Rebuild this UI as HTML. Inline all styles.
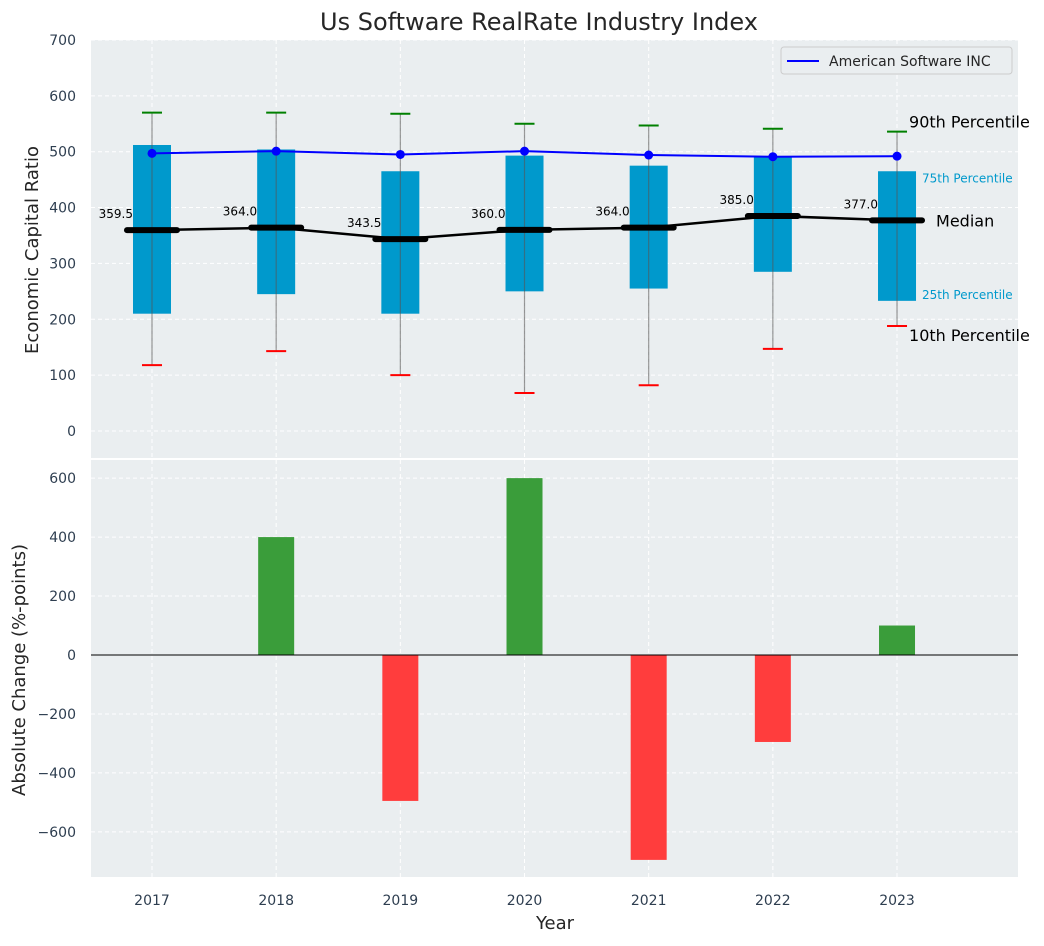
<!DOCTYPE html>
<html><head><meta charset="utf-8"><style>
body{margin:0;background:#fff;font-family:"DejaVu Sans",sans-serif}
</style></head><body>
<svg id="c" width="1044" height="942" xmlns="http://www.w3.org/2000/svg" font-family="DejaVu Sans, sans-serif"></svg>
<script>
const years=[2017,2018,2019,2020,2021,2022,2023];
const q1=[210,245,210,250,255,285,233];
const q3=[512,504,465,493,475,492,465];
const med=[359.5,364,343.5,360,364,385,377];
const p10=[118,143,100,68,82,147,188];
const p90=[570,570,568,550,547,541,536];
const company=[497,501,495,501,494,491,492];
const change=[0,400,-495,600,-695,-295,100];
const topTicks=[0,100,200,300,400,500,600,700];
const botTicks=[-600,-400,-200,0,200,400,600];

const svg=document.getElementById('c');
const NS='http://www.w3.org/2000/svg';
function el(t,a,txt){const e=document.createElementNS(NS,t);for(const k in a)e.setAttribute(k,a[k]);if(txt!==undefined)e.textContent=txt;svg.appendChild(e);return e;}
const X=y=>152+(y-2017)*124.17;
const Yt=v=>431-0.5586*v;
const Yb=v=>655-0.2948*v;
const L=91,R=1018;

let e;
e=el('text',{x:539,y:30,'text-anchor':'middle','font-size':24,fill:'#262626'},'Us Software RealRate Industry Index');


e=el('rect',{x:L,y:40,width:R-L,height:418,fill:'#eaeef0'});


e=el('rect',{x:L,y:460,width:R-L,height:417,fill:'#eaeef0'});


years.forEach(y=>{
 e=el('line',{x1:X(y),x2:X(y),y1:40,y2:458,stroke:'#fff','stroke-dasharray':'4,3'});
 
 
 e=el('line',{x1:X(y),x2:X(y),y1:460,y2:877,stroke:'#fff','stroke-dasharray':'4,3'});
 
 
 e=el('text',{x:X(y),y:905,'text-anchor':'middle','font-size':14,fill:'#2e3e50'},String(y));
 
 
});
topTicks.forEach(v=>{
 e=el('line',{x1:L,x2:R,y1:Yt(v),y2:Yt(v),stroke:'#fff','stroke-dasharray':'4,3'});
 
 
 e=el('text',{x:76,y:Yt(v)+5,'text-anchor':'end','font-size':14,fill:'#2e3e50'},String(v));
 
 
});
botTicks.forEach(v=>{
 e=el('line',{x1:L,x2:R,y1:Yb(v),y2:Yb(v),stroke:'#fff','stroke-dasharray':'4,3'});
 
 
 e=el('text',{x:76,y:Yb(v)+5,'text-anchor':'end','font-size':14,fill:'#2e3e50'},(v<0?'\u2212'+(-v):String(v)));
 
 
});
years.forEach((y,i)=>{
 const x=X(y);
 e=el('rect',{x:x-19,y:Yt(q3[i]),width:38,height:Yt(q1[i])-Yt(q3[i]),fill:'#0099cc'});
 
 
 e=el('line',{x1:x,x2:x,y1:Yt(p10[i]),y2:Yt(p90[i]),stroke:'#555','stroke-opacity':0.6,'stroke-width':1.2});
 
 
 e=el('line',{x1:x-10,x2:x+10,y1:Yt(p90[i]),y2:Yt(p90[i]),stroke:'green','stroke-width':2});
 
 
 e=el('line',{x1:x-10,x2:x+10,y1:Yt(p10[i]),y2:Yt(p10[i]),stroke:'red','stroke-width':2});
 
 
});
e=el('polyline',{points:years.map((y,i)=>X(y)+','+Yt(med[i])).join(' '),fill:'none',stroke:'#000','stroke-width':2.5});


years.forEach((y,i)=>{
 const x=X(y);
 e=el('line',{x1:x-25,x2:x+25,y1:Yt(med[i]),y2:Yt(med[i]),stroke:'#000','stroke-width':6,'stroke-linecap':'round'});
 
 
 e=el('text',{x:x-19,y:Yt(med[i])-12,'text-anchor':'end','font-size':12,fill:'#000'},med[i].toFixed(1));
 
 
});
e=el('polyline',{points:years.map((y,i)=>X(y)+','+Yt(company[i])).join(' '),fill:'none',stroke:'#0000ff','stroke-width':2});


years.forEach((y,i)=>{
 e=el('circle',{cx:X(y),cy:Yt(company[i]),r:4.5,fill:'#0000ff'});
 
 
});
const lx=X(2023);
[['90th Percentile',lx+12,Yt(p90[6])-4,16,'#000'],['75th Percentile',lx+25,Yt(q3[6])+11,12,'#0099cc'],['Median',lx+39,Yt(med[6])+6,16,'#000'],['25th Percentile',lx+25,Yt(q1[6])-2,12,'#0099cc'],['10th Percentile',lx+12,Yt(p10[6])+15,16,'#000']].forEach(a=>{
 e=el('text',{x:a[1],y:a[2],'font-size':a[3],fill:a[4]},a[0]);
 
 
});
e=el('rect',{x:781,y:47,width:231,height:27,rx:3,fill:'#eaeef0',stroke:'#ccc'});


e=el('line',{x1:787,x2:819,y1:61,y2:61,stroke:'#0000ff','stroke-width':2});


e=el('text',{x:829,y:66,'font-size':14,fill:'#262626'},'American Software INC');


years.forEach((y,i)=>{
 const v=change[i];if(v===0)return;
 e=el('rect',{x:X(y)-18,y:Math.min(Yb(v),Yb(0)),width:36,height:Math.abs(Yb(v)-Yb(0)),fill:v>0?'#3a9d3a':'#ff3d3d'});
 
 
});
e=el('line',{x1:L,x2:R,y1:Yb(0),y2:Yb(0),stroke:'#000','stroke-width':1});


e=el('text',{x:0,y:0,transform:'translate(38,250) rotate(-90)','text-anchor':'middle','font-size':18,fill:'#262626'},'Economic Capital Ratio');


e=el('text',{x:0,y:0,transform:'translate(25,670) rotate(-90)','text-anchor':'middle','font-size':18,fill:'#262626'},'Absolute Change (%-points)');


e=el('text',{x:555,y:929,'text-anchor':'middle','font-size':18,fill:'#262626'},'Year');


</script>
</body></html>
